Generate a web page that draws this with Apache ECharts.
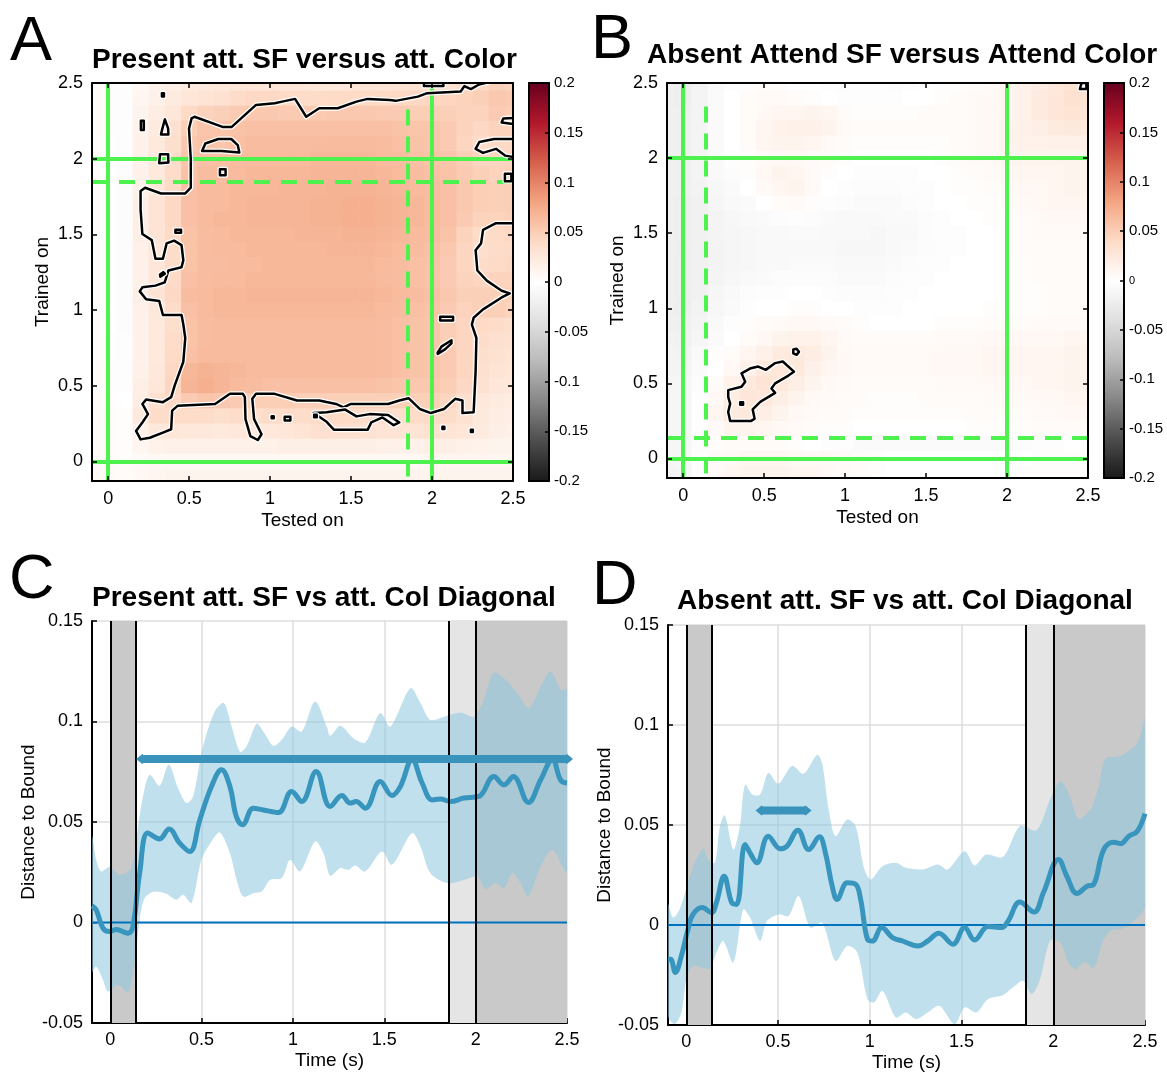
<!DOCTYPE html>
<html><head><meta charset="utf-8">
<script src="https://cdn.jsdelivr.net/npm/echarts@6/dist/echarts.min.js"></script>
<style>html,body{margin:0;padding:0;background:#fff}#c{width:1167px;height:1073px}</style>
</head><body><div id="c"></div>
<script>
// ---------------- DATA ----------------
const titleA = 'Present att. SF versus att. Color';
const titleB = 'Absent Attend SF versus Attend Color';
const titleC = 'Present att. SF vs att. Col Diagonal';
const titleD = 'Absent att. SF vs att. Col Diagonal';
const heatTicks = [0, 0.5, 1, 1.5, 2, 2.5];
const timeTicks = [0, 0.5, 1, 1.5, 2, 2.5];
// heatmap cell centres (s)
const heatX = [-0.1,0,0.1,0.2,0.3,0.4,0.5,0.6,0.7,0.8,0.9,1.0,1.1,1.2,1.3,1.4,1.5,1.6,1.7,1.8,1.9,2.0,2.1,2.2,2.3,2.4,2.5];
const heatY = [2.5,2.4,2.3,2.2,2.1,2.0,1.9,1.8,1.7,1.6,1.5,1.4,1.3,1.2,1.1,1.0,0.9,0.8,0.7,0.6,0.5,0.4,0.3,0.2,0.1,0.0,-0.1];
// values in thousandths (rows = heatY, cols = heatX)
const heatAmilli = [
[4,2,-2,8,14,18,22,24,26,28,28,28,28,28,26,26,28,30,30,30,32,34,34,38,42,48,46],
[4,2,-2,10,16,22,28,30,32,38,42,42,40,38,38,40,40,40,40,42,42,44,44,46,48,54,52],
[4,2,-3,12,20,28,40,46,48,52,54,54,52,52,52,54,54,54,52,52,50,50,48,46,46,52,50],
[4,2,-3,14,22,34,50,56,56,58,60,60,60,60,60,60,60,60,60,58,56,56,52,46,42,46,46],
[4,1,-3,14,24,36,54,58,56,60,62,62,62,62,62,64,64,64,62,60,58,56,52,44,38,40,42],
[4,1,-3,14,24,38,56,60,60,62,64,64,64,64,66,66,66,66,64,62,60,58,56,50,44,44,46],
[4,0,-4,14,24,38,58,62,62,64,66,66,66,66,68,68,68,68,66,64,62,60,58,52,48,46,48],
[4,0,-4,16,28,40,60,64,64,66,66,66,68,68,68,70,70,70,68,66,64,62,60,54,50,48,50],
[4,0,-4,18,30,42,60,64,64,66,68,68,68,68,70,70,72,72,70,68,66,64,60,54,50,48,50],
[4,0,-4,18,30,42,60,64,66,66,68,68,68,68,70,70,72,72,70,68,66,64,60,52,46,46,48],
[4,0,-4,18,30,40,58,62,64,66,66,66,66,68,68,68,70,70,68,66,64,62,58,46,38,40,42],
[4,0,-4,16,28,38,58,62,64,64,66,66,66,66,66,68,68,68,66,64,62,60,54,44,36,38,40],
[4,0,-4,16,28,38,58,62,62,64,64,66,66,66,66,66,66,66,64,62,60,58,52,44,38,40,42],
[4,0,-4,16,28,40,60,62,64,64,66,66,66,66,66,66,66,66,64,62,60,58,52,46,44,46,46],
[4,0,-4,18,30,42,62,64,66,66,68,68,68,68,68,68,68,68,66,64,62,60,54,48,48,48,48],
[4,0,-4,16,26,38,60,64,66,66,66,66,66,66,66,66,66,66,64,62,60,58,52,46,48,48,46],
[4,0,-4,14,24,36,58,62,64,64,64,64,64,64,64,64,64,64,62,60,58,56,50,44,40,38,36],
[4,1,-3,14,24,38,58,62,64,64,64,64,64,64,64,64,64,64,62,60,58,56,50,44,38,34,32],
[4,1,-3,14,24,40,60,64,64,64,64,64,64,64,64,64,64,64,62,60,58,56,52,44,36,32,30],
[5,2,-2,16,26,42,66,70,68,66,64,64,64,64,64,64,64,64,62,60,58,56,52,44,34,30,28],
[5,2,-2,18,28,44,68,72,68,64,62,60,60,60,60,60,60,60,58,56,54,54,50,42,32,28,26],
[6,3,0,20,34,42,52,56,54,52,50,50,50,48,48,48,48,48,48,48,48,48,44,36,26,22,20],
[6,4,2,24,38,38,38,38,36,38,36,38,38,38,40,40,40,38,38,36,38,40,38,32,24,20,18],
[6,4,2,16,26,28,26,26,24,26,24,26,28,30,34,34,34,32,30,30,30,32,30,28,22,18,16],
[6,4,3,10,14,16,16,16,16,16,16,16,18,18,18,18,18,18,16,16,16,18,18,16,14,12,12],
[6,4,2,6,8,8,8,8,8,8,8,8,8,8,8,8,8,8,8,8,8,10,10,10,10,10,10],
[8,6,4,8,10,12,12,12,12,12,12,12,12,12,12,12,12,12,12,12,12,12,12,12,12,12,12]
];
const heatBmilli = [
[-20,-22,-16,-8,-2,2,4,2,0,0,-2,-4,-2,-2,-4,-2,0,2,2,4,6,10,14,20,26,30,30],
[-20,-22,-14,-6,0,4,6,6,4,2,0,-2,-2,-2,-2,0,0,2,4,6,8,10,14,22,28,32,30],
[-18,-20,-14,-6,0,4,8,10,10,12,10,4,2,2,2,2,4,4,4,6,8,10,14,22,28,30,28],
[-18,-20,-14,-6,0,4,10,14,16,16,12,6,4,4,4,4,4,4,4,6,8,12,16,18,22,24,22],
[-18,-20,-14,-6,0,4,10,12,12,10,6,4,2,2,2,2,2,2,4,6,8,12,14,14,16,16,16],
[-18,-20,-14,-8,-2,2,6,8,8,6,4,2,0,0,0,0,0,2,4,6,8,10,12,12,12,12,12],
[-18,-20,-14,-8,-4,2,8,12,10,6,2,0,-2,-2,-2,-2,0,0,2,4,6,8,10,10,10,12,12],
[-18,-20,-16,-10,-6,0,6,10,12,6,0,-2,-4,-4,-4,-2,-2,0,2,2,4,6,8,8,10,12,12],
[-20,-22,-18,-12,-8,-6,0,4,6,2,-2,-4,-6,-6,-6,-4,-2,0,0,2,2,4,6,8,10,10,10],
[-20,-22,-18,-14,-10,-8,-6,-4,-2,-4,-6,-8,-8,-8,-6,-6,-4,-2,0,0,2,2,4,6,8,8,8],
[-20,-22,-18,-14,-12,-10,-8,-8,-6,-6,-8,-8,-8,-10,-8,-8,-4,-2,-2,0,0,2,4,6,6,6,6],
[-20,-22,-18,-16,-12,-10,-8,-8,-8,-8,-8,-10,-10,-10,-8,-6,-4,-2,-2,0,0,2,4,4,4,4,4],
[-20,-22,-18,-16,-12,-10,-8,-8,-6,-6,-6,-8,-8,-8,-6,-4,-2,-2,0,0,0,2,2,4,4,4,4],
[-20,-22,-18,-14,-10,-8,-6,-4,-4,-4,-4,-6,-6,-6,-4,-2,-2,0,0,0,0,2,2,4,4,4,4],
[-20,-22,-18,-12,-8,-4,-2,-2,0,0,-2,-4,-4,-4,-2,-2,0,0,0,0,0,2,2,2,4,4,4],
[-20,-22,-16,-10,-6,-2,0,0,2,2,0,0,-2,-2,-2,0,0,0,0,0,2,2,2,2,4,4,4],
[-18,-20,-14,-8,-2,2,4,6,8,8,6,4,2,0,0,0,0,2,2,2,4,4,4,6,6,6,6],
[-16,-18,-12,-6,0,4,8,12,14,14,10,6,4,4,4,4,4,6,6,6,8,8,8,8,8,10,10],
[-14,-16,-8,-2,4,10,16,22,24,20,12,8,6,6,6,6,6,8,8,8,10,10,10,10,10,12,12],
[-14,-14,-6,0,8,16,24,28,24,16,10,8,6,6,6,6,6,8,8,8,10,10,10,10,10,12,12],
[-12,-12,-4,4,14,24,30,26,18,12,8,6,4,4,4,4,4,6,6,6,8,8,8,10,10,12,12],
[-12,-12,-2,8,20,28,26,18,12,8,6,4,4,2,2,2,4,4,4,4,6,6,6,8,8,10,10],
[-12,-12,-2,10,22,24,18,12,8,6,4,4,2,2,2,2,2,2,2,4,4,4,4,6,6,8,8],
[-12,-12,-2,6,12,12,10,8,6,4,2,2,0,0,0,0,0,0,0,2,2,2,2,4,4,4,4],
[-12,-12,-4,2,4,4,4,4,2,0,-2,-2,-6,-6,-6,-6,-6,-6,-6,-6,-6,-6,-4,-2,-2,0,0],
[-12,-10,-2,6,8,10,10,10,8,8,8,6,4,2,0,0,0,0,0,0,0,0,0,2,2,2,2],
[-14,-12,-2,6,10,12,12,12,10,10,8,6,4,2,0,0,0,0,0,0,0,0,2,2,2,2,2]
];
// significance contours (data coordinates, seconds)
const contoursA = [
[[0.515,2.266],[0.533,2.277],[0.706,2.21],[0.763,2.21],[0.913,2.355],[1.028,2.366],[1.074,2.377],[1.154,2.395],[1.223,2.277],[1.303,2.333],[1.418,2.333],[1.533,2.377],[1.602,2.395],[1.74,2.388],[1.775,2.382],[1.913,2.41],[1.97,2.433],[2.177,2.444],[2.2,2.48],[2.24,2.46],[2.29,2.49],[2.56,2.56],[2.56,2.27],[2.44,2.266],[2.43,2.239],[2.56,2.22],[2.56,2.13],[2.384,2.13],[2.292,2.11],[2.269,2.065],[2.315,2.038],[2.395,2.065],[2.453,2.02],[2.56,2.0],[2.56,1.574],[2.395,1.574],[2.315,1.529],[2.303,1.44],[2.269,1.395],[2.28,1.261],[2.338,1.194],[2.43,1.127],[2.48,1.11],[2.43,1.083],[2.315,1.004],[2.257,0.949],[2.246,0.904],[2.274,0.815],[2.269,0.592],[2.257,0.324],[2.188,0.319],[2.188,0.402],[2.143,0.413],[2.074,0.346],[1.993,0.319],[1.924,0.346],[1.855,0.417],[1.798,0.402],[1.729,0.379],[1.499,0.379],[1.453,0.357],[1.407,0.379],[1.303,0.402],[1.166,0.402],[1.028,0.446],[0.913,0.446],[0.89,0.413],[0.901,0.279],[0.947,0.179],[0.924,0.141],[0.878,0.167],[0.848,0.279],[0.844,0.424],[0.832,0.446],[0.752,0.446],[0.66,0.379],[0.43,0.368],[0.395,0.335],[0.389,0.212],[0.338,0.19],[0.257,0.156],[0.2,0.145],[0.172,0.201],[0.211,0.257],[0.246,0.312],[0.211,0.379],[0.234,0.408],[0.338,0.391],[0.389,0.424],[0.411,0.502],[0.464,0.658],[0.476,0.815],[0.464,0.904],[0.453,0.967],[0.338,0.967],[0.315,1.06],[0.234,1.071],[0.195,1.123],[0.211,1.15],[0.292,1.161],[0.349,1.183],[0.372,1.261],[0.453,1.283],[0.464,1.328],[0.453,1.429],[0.407,1.458],[0.361,1.44],[0.338,1.339],[0.292,1.339],[0.269,1.462],[0.211,1.502],[0.2,1.663],[0.2,1.786],[0.228,1.808],[0.326,1.77],[0.476,1.77],[0.51,1.808],[0.51,1.998],[0.499,2.199]],
[[1.269,0.319],[1.349,0.261],[1.395,0.208],[1.602,0.208],[1.625,0.257],[1.694,0.29],[1.763,0.239],[1.798,0.257],[1.729,0.306],[1.614,0.312],[1.533,0.297],[1.464,0.342],[1.349,0.324]],
[[0.332,2.41],[0.344,2.41],[0.344,2.432],[0.332,2.432]],
[[0.202,2.19],[0.22,2.19],[0.22,2.25],[0.202,2.25]],
[[0.326,2.16],[0.372,2.16],[0.37,2.2],[0.35,2.26],[0.335,2.2]],
[[0.315,1.97],[0.372,1.975],[0.37,2.03],[0.32,2.03]],
[[0.58,2.05],[0.6,2.1],[0.68,2.13],[0.76,2.13],[0.8,2.09],[0.81,2.04],[0.7,2.05]],
[[0.69,1.89],[0.725,1.89],[0.725,1.93],[0.69,1.93]],
[[0.415,1.51],[0.45,1.51],[0.45,1.53],[0.415,1.53]],
[[0.322,1.22],[0.35,1.24],[0.34,1.25],[0.32,1.235]],
[[2.05,0.93],[2.13,0.93],[2.13,0.955],[2.05,0.955]],
[[2.035,0.72],[2.06,0.76],[2.12,0.8],[2.12,0.78],[2.08,0.74],[2.035,0.71]],
[[2.064,0.214],[2.076,0.214],[2.076,0.228],[2.064,0.228]],
[[2.24,0.194],[2.252,0.194],[2.252,0.208],[2.24,0.208]],
[[1.01,0.284],[1.022,0.284],[1.022,0.298],[1.01,0.298]],
[[1.09,0.27],[1.125,0.27],[1.125,0.295],[1.09,0.295]],
[[1.272,0.292],[1.288,0.292],[1.288,0.308],[1.272,0.308]],
[[1.95,2.48],[2.07,2.48],[2.07,2.53],[1.95,2.53]],
[[2.45,1.85],[2.49,1.85],[2.49,1.9],[2.45,1.9]]
];
const contoursB = [
[[0.278,0.455],[0.36,0.478],[0.383,0.511],[0.36,0.567],[0.418,0.601],[0.464,0.612],[0.51,0.59],[0.568,0.635],[0.615,0.646],[0.684,0.578],[0.65,0.552],[0.568,0.5],[0.545,0.466],[0.568,0.437],[0.476,0.377],[0.429,0.327],[0.441,0.265],[0.418,0.249],[0.29,0.249],[0.278,0.309],[0.29,0.365],[0.278,0.41]],
[[0.68,0.7],[0.7,0.69],[0.715,0.71],[0.7,0.73],[0.68,0.725]],
[[0.352,0.357],[0.37,0.357],[0.37,0.375],[0.352,0.375]],
[[2.45,2.46],[2.49,2.46],[2.49,2.5],[2.46,2.5]]
];
// reference lines (s)
const solidLinesA = [0, 2];
const dashedA = 1.85;
const solidLinesB = [0, 2];
const dashedB = 0.14;
const dashedExtent = [-0.1, 2.4];
// time-course panels
const eventLines = [0, 0.14, 1.85, 2.0];
const darkSpans = [[0, 0.14], [2.0, 2.6]];
const lightSpans = [[1.85, 2.0]];

const tMeanC = [-0.1,-0.077,-0.04,-0.004,0.033,0.097,0.124,0.161,0.206,0.27,0.322,0.38,0.435,0.49,0.554,0.609,0.655,0.69,0.724,0.783,0.838,0.92,0.993,1.048,1.127,1.204,1.268,1.313,1.346,1.396,1.478,1.542,1.588,1.652,1.707,1.762,1.807,1.862,1.935,2.017,2.1,2.155,2.206,2.289,2.356,2.42,2.466,2.5];
const meanC = [0.0083,0.0063,-0.0028,-0.0045,-0.0035,-0.0053,-0.002,0.0246,0.0445,0.0416,0.0465,0.0395,0.0353,0.051,0.0677,0.076,0.0677,0.0527,0.0486,0.0569,0.056,0.0547,0.0652,0.0602,0.0751,0.0577,0.0632,0.0594,0.0602,0.0569,0.0702,0.0632,0.0677,0.081,0.0694,0.061,0.0614,0.0602,0.0619,0.0627,0.0726,0.0685,0.0726,0.0597,0.071,0.081,0.0707,0.0694];
const tUpperC = [-0.1,-0.077,-0.05,-0.004,0.051,0.115,0.152,0.179,0.216,0.27,0.32,0.371,0.417,0.453,0.508,0.572,0.622,0.664,0.71,0.746,0.801,0.838,0.893,0.939,0.993,1.048,1.121,1.185,1.204,1.259,1.331,1.396,1.478,1.533,1.643,1.698,1.752,1.844,1.917,1.99,2.045,2.1,2.173,2.228,2.292,2.356,2.411,2.466,2.5];
const upperC = [0.0428,0.0312,0.0254,0.0276,0.0237,0.027,0.0478,0.0627,0.0735,0.068,0.0785,0.0669,0.0594,0.0627,0.0876,0.105,0.1092,0.0975,0.085,0.0876,0.0989,0.095,0.0879,0.0909,0.0975,0.095,0.11,0.0975,0.0929,0.0979,0.0917,0.0896,0.1042,0.0975,0.1166,0.1092,0.1008,0.1028,0.1045,0.1025,0.1108,0.1241,0.12,0.1141,0.1067,0.1174,0.1249,0.1158,0.1158];
const tLowerC = [-0.1,-0.077,-0.04,-0.013,0.042,0.097,0.133,0.161,0.188,0.243,0.307,0.362,0.399,0.445,0.499,0.554,0.6,0.655,0.692,0.728,0.783,0.829,0.874,0.939,0.984,1.039,1.121,1.167,1.204,1.259,1.304,1.341,1.396,1.487,1.542,1.652,1.698,1.752,1.844,1.935,2.009,2.054,2.109,2.155,2.201,2.246,2.287,2.356,2.42,2.475,2.5];
const lowerC = [-0.0244,-0.0219,-0.0285,-0.0343,-0.031,-0.0348,-0.0202,0.0013,0.0121,0.0154,0.0143,0.0113,0.0138,0.0097,0.0312,0.0403,0.0448,0.0345,0.0212,0.0129,0.0146,0.0154,0.0212,0.0221,0.0312,0.0254,0.0403,0.0345,0.0233,0.0271,0.0262,0.0284,0.0254,0.0353,0.0287,0.0445,0.0378,0.0246,0.0196,0.0212,0.0229,0.0166,0.0196,0.0171,0.0246,0.0196,0.0129,0.0279,0.0362,0.0279,0.0246];
const sigC = [0.175, 2.5];
const sigLevelC = 0.0813;

const tMeanD = [-0.1,-0.086,-0.06,-0.027,0.009,0.036,0.086,0.137,0.164,0.206,0.247,0.274,0.32,0.347,0.384,0.447,0.512,0.548,0.608,0.667,0.725,0.758,0.795,0.822,0.877,0.923,0.95,0.987,1.014,1.065,1.124,1.179,1.261,1.316,1.376,1.453,1.517,1.571,1.645,1.718,1.754,1.818,1.895,1.946,2.029,2.074,2.129,2.184,2.22,2.275,2.33,2.366,2.412,2.458,2.5];
const meanD = [-0.0171,-0.0171,-0.0237,-0.0154,-0.0021,0.0053,0.0087,0.0062,0.0112,0.0244,0.0112,0.0103,0.0402,0.0361,0.0311,0.0444,0.0381,0.0394,0.0474,0.0377,0.0441,0.0361,0.0194,0.0128,0.0211,0.0203,0.0128,-0.0071,-0.008,-0.0013,-0.0063,-0.008,-0.0105,-0.008,-0.0041,-0.0096,-0.0013,-0.0075,-0.0008,-0.0013,0.002,0.0115,0.0065,0.0161,0.0328,0.0244,0.0158,0.0194,0.0203,0.0377,0.0414,0.0407,0.0444,0.0469,0.0557];
const tUpperD = [-0.1,-0.073,-0.037,0.009,0.046,0.091,0.118,0.155,0.183,0.21,0.256,0.292,0.32,0.36,0.402,0.447,0.502,0.576,0.639,0.713,0.74,0.776,0.813,0.877,0.923,0.968,1.005,1.069,1.142,1.197,1.288,1.371,1.425,1.517,1.571,1.635,1.727,1.818,1.91,1.982,2.037,2.083,2.138,2.202,2.248,2.284,2.366,2.458,2.5];
const upperD = [0.0103,0.0037,0.0078,0.0211,0.0311,0.0381,0.0328,0.0311,0.0494,0.0547,0.0377,0.0494,0.0701,0.0652,0.0652,0.076,0.0706,0.0796,0.0756,0.0851,0.081,0.0577,0.0444,0.0527,0.0494,0.0286,0.0228,0.0294,0.0311,0.0286,0.0278,0.0303,0.0278,0.0369,0.0298,0.0352,0.0341,0.0494,0.0474,0.0627,0.0718,0.066,0.053,0.0577,0.0693,0.083,0.0846,0.0909,0.103];
const tLowerD = [-0.1,-0.064,-0.027,0.0,0.036,0.082,0.128,0.164,0.201,0.256,0.31,0.347,0.402,0.439,0.502,0.557,0.612,0.676,0.74,0.813,0.877,0.932,0.987,1.023,1.069,1.142,1.197,1.252,1.316,1.379,1.462,1.517,1.581,1.645,1.727,1.791,1.837,1.882,1.928,1.982,2.037,2.083,2.12,2.174,2.22,2.275,2.321,2.366,2.439,2.5];
const lowerD = [-0.0454,-0.0495,-0.0437,-0.0271,-0.0204,-0.0212,-0.0217,-0.0138,-0.008,-0.0187,0.0078,0.0037,-0.008,0.002,0.0053,0.0045,0.0145,-0.0013,0.0012,-0.018,-0.0105,-0.0138,-0.037,-0.0387,-0.0329,-0.0462,-0.0437,-0.047,-0.0437,-0.0404,-0.0495,-0.0412,-0.0437,-0.037,-0.035,-0.0304,-0.0279,-0.0345,-0.0271,-0.008,-0.0085,-0.0187,-0.0221,-0.0184,-0.0217,-0.0071,-0.0025,-0.0021,0.002,0.0095];
const sigD = [0.41, 0.65];
const sigLevelD = 0.0573;

// ---------------- STYLE ----------------
const FONT = "'Liberation Sans', Arial, Helvetica, sans-serif";
const GREEN = '#4EF24E';
const RDGY = ['#1a1a1a','#4d4d4d','#878787','#bababa','#e0e0e0','#ffffff','#fddbc7','#f4a582','#d6604d','#b2182b','#67001f'];
const LINE_BLUE = '#3795BE';
const BAND = 'rgba(141,200,221,0.56)';
const TICK_FS = 18, NAME_FS = 19;

function heatData(m) {
  const out = [];
  m.forEach((row, r) => row.forEach((v, c) => out.push([heatX[c], heatY[r], v / 1000])));
  return out;
}
const black = {color: '#000', width: 2};
function heatXAxis(grid, name) {
  return [
    {gridIndex: grid, type: 'value', min: -0.1, max: 2.5, position: 'bottom', z: 10,
     axisLine: {show: true, onZero: false, lineStyle: black},
     axisTick: {show: true, inside: true, length: 5, customValues: heatTicks, lineStyle: {color: '#000', width: 1.5}},
     axisLabel: {show: true, customValues: heatTicks, fontSize: TICK_FS, color: '#000', margin: 9, fontFamily: FONT},
     splitLine: {show: false},
     name: name, nameLocation: 'middle', nameGap: 30,
     nameTextStyle: {fontSize: NAME_FS, color: '#000', fontFamily: FONT}},
    {gridIndex: grid, type: 'value', min: -0.1, max: 2.5, position: 'top', z: 10,
     axisLine: {show: true, onZero: false, lineStyle: black},
     axisTick: {show: true, inside: true, length: 5, customValues: heatTicks, lineStyle: {color: '#000', width: 1.5}},
     axisLabel: {show: false}, splitLine: {show: false}}
  ];
}
function heatYAxis(grid, name) {
  return [
    {gridIndex: grid, type: 'value', min: -0.13, max: 2.5, position: 'left', z: 10,
     axisLine: {show: true, onZero: false, lineStyle: black},
     axisTick: {show: true, inside: true, length: 5, customValues: heatTicks, lineStyle: {color: '#000', width: 1.5}},
     axisLabel: {show: true, customValues: heatTicks, fontSize: TICK_FS, color: '#000', margin: 9, fontFamily: FONT},
     splitLine: {show: false},
     name: name, nameLocation: 'middle', nameGap: 40,
     nameTextStyle: {fontSize: NAME_FS, color: '#000', fontFamily: FONT}},
    {gridIndex: grid, type: 'value', min: -0.13, max: 2.5, position: 'right', z: 10,
     axisLine: {show: true, onZero: false, lineStyle: black},
     axisTick: {show: true, inside: true, length: 5, customValues: heatTicks, lineStyle: {color: '#000', width: 1.5}},
     axisLabel: {show: false}, splitLine: {show: false}}
  ];
}
function cbarXAxis(grid) {
  return [
    {gridIndex: grid, type: 'value', min: 0, max: 1, position: 'bottom', z: 10,
     axisLine: {show: true, onZero: false, lineStyle: black}, axisTick: {show: false}, axisLabel: {show: false}, splitLine: {show: false}},
    {gridIndex: grid, type: 'value', min: 0, max: 1, position: 'top', z: 10,
     axisLine: {show: true, onZero: false, lineStyle: black}, axisTick: {show: false}, axisLabel: {show: false}, splitLine: {show: false}}
  ];
}
function cbarYAxis(grid, smallZero) {
  return [
    {gridIndex: grid, type: 'value', min: -0.2, max: 0.2, position: 'left', z: 10,
     axisLine: {show: true, onZero: false, lineStyle: black}, axisTick: {show: false}, axisLabel: {show: false}, splitLine: {show: false}},
    {gridIndex: grid, type: 'value', min: -0.2, max: 0.2, interval: 0.05, position: 'right', z: 10,
     axisLine: {show: true, onZero: false, lineStyle: black},
     axisTick: {show: true, inside: true, length: 4, lineStyle: {color: '#000', width: 1.5}},
     axisLabel: {show: true, fontSize: 15, color: '#000', margin: 5, fontFamily: FONT,
       formatter: v => (smallZero && Math.abs(v) < 1e-9) ? '{s|0}' : String(+v.toFixed(2)),
       rich: {s: {fontSize: 11, fontFamily: FONT, color: '#000'}}},
     splitLine: {show: false}}
  ];
}
function timeXAxis(grid) {
  return {gridIndex: grid, type: 'value', min: -0.1, max: 2.5,
    axisLine: {show: true, onZero: false, lineStyle: black},
    axisTick: {show: true, inside: true, length: 5, customValues: timeTicks, lineStyle: {color: '#000', width: 1.5}},
    axisLabel: {show: true, customValues: timeTicks, fontSize: TICK_FS, color: '#000', margin: 8, fontFamily: FONT},
    splitLine: {show: true, lineStyle: {color: '#DEDEDE', width: 1.5}},
    name: 'Time (s)', nameLocation: 'middle', nameGap: 28,
    nameTextStyle: {fontSize: NAME_FS, color: '#000', fontFamily: FONT}};
}
function timeYAxis(grid) {
  return {gridIndex: grid, type: 'value', min: -0.05, max: 0.15, interval: 0.05,
    axisLine: {show: true, onZero: false, lineStyle: black},
    axisTick: {show: true, inside: true, length: 5, lineStyle: {color: '#000', width: 1.5}},
    axisLabel: {show: true, fontSize: TICK_FS, color: '#000', margin: 9, fontFamily: FONT},
    splitLine: {show: true, lineStyle: {color: '#DEDEDE', width: 1.5}},
    name: 'Distance to Bound', nameLocation: 'middle', nameGap: 52,
    nameTextStyle: {fontSize: NAME_FS, color: '#000', fontFamily: FONT}};
}

function heatSeries(ax, m) {
  return {type: 'custom', coordinateSystem: 'cartesian2d', xAxisIndex: ax, yAxisIndex: ax,
    clip: true, z: 1, silent: true, data: heatData(m),
    renderItem: (params, api) => {
      const x = api.value(0), y = api.value(1);
      const p1 = api.coord([x - 0.05, y + 0.05]);
      const p2 = api.coord([x + 0.05, y - 0.05]);
      return {type: 'rect', shape: {x: p1[0], y: p1[1], width: p2[0] - p1[0] + 0.7, height: p2[1] - p1[1] + 0.7},
        style: {fill: api.visual('color')}};
    }};
}
function greenSeries(ax, solids, dashed) {
  const solidStyle = {color: GREEN, width: 4, type: 'solid'};
  const dashStyle = {color: GREEN, width: 4, type: [16, 11]};
  const data = [];
  solids.forEach(v => data.push({xAxis: v, lineStyle: solidStyle}));
  solids.forEach(v => data.push({yAxis: v, lineStyle: solidStyle}));
  data.push([{coord: [dashed, dashedExtent[0]], lineStyle: dashStyle}, {coord: [dashed, dashedExtent[1]]}]);
  data.push([{coord: [-0.1, dashed], lineStyle: dashStyle}, {coord: [2.5, dashed]}]);
  return {type: 'line', xAxisIndex: ax, yAxisIndex: ax, data: [[-1, -1]], symbol: 'none', z: 3, silent: true,
    lineStyle: {opacity: 0},
    markLine: {silent: true, symbol: ['none', 'none'], label: {show: false}, animation: false, data: data}};
}
function contourSeries(ax, loops) {
  return {type: 'custom', coordinateSystem: 'cartesian2d', xAxisIndex: ax, yAxisIndex: ax,
    clip: true, z: 5, silent: true, data: loops.map(l => l[0]),
    renderItem: (params, api) => {
      const pts = loops[params.dataIndex].map(p => api.coord(p));
      return {type: 'group', children: [
        {type: 'polygon', shape: {points: pts}, style: {fill: 'none', stroke: '#fff', lineWidth: 5, lineJoin: 'round'}},
        {type: 'polygon', shape: {points: pts}, style: {fill: 'none', stroke: '#000', lineWidth: 2.5, lineJoin: 'round'}}
      ]};
    }};
}
function zip(t, v) { return t.map((x, i) => [x, v[i]]); }
function timeSeries(ax, tM, m, tU, u, tL, l, sig, sigLevel) {
  const areas = [];
  darkSpans.forEach(s => areas.push([{xAxis: s[0], itemStyle: {color: '#C9C9C9'}}, {xAxis: s[1]}]));
  lightSpans.forEach(s => areas.push([{xAxis: s[0], itemStyle: {color: '#E5E5E5'}}, {xAxis: s[1]}]));
  return [
    {type: 'line', xAxisIndex: ax, yAxisIndex: ax, data: [[-1, -1]], symbol: 'none', z: 1, silent: true,
     lineStyle: {opacity: 0},
     markArea: {silent: true, animation: false, data: areas},
     markLine: {silent: true, symbol: ['none', 'none'], label: {show: false}, animation: false,
       lineStyle: {color: '#000', width: 2, type: 'solid'},
       data: eventLines.map(v => ({xAxis: v}))}},
    {type: 'custom', coordinateSystem: 'cartesian2d', xAxisIndex: ax, yAxisIndex: ax, clip: true, z: 2, silent: true,
     data: [[tU[0], u[0]]],
     renderItem: (params, api) => {
       const pts = [];
       for (let i = 0; i < tU.length; i++) pts.push(api.coord([tU[i], u[i]]));
       for (let i = tL.length - 1; i >= 0; i--) pts.push(api.coord([tL[i], l[i]]));
       return {type: 'polygon', shape: {points: pts, smooth: 0.3}, style: {fill: BAND}};
     }},
    {type: 'line', xAxisIndex: ax, yAxisIndex: ax, data: [[-0.1, 0], [2.5, 0]], symbol: 'none', z: 3, silent: true,
     lineStyle: {color: '#0072BD', width: 2}},
    {type: 'line', xAxisIndex: ax, yAxisIndex: ax, data: zip(tM, m), symbol: 'none', smooth: 0.4, z: 4, silent: true,
     lineStyle: {color: LINE_BLUE, width: 5}},
    {type: 'line', xAxisIndex: ax, yAxisIndex: ax, data: [[sig[0], sigLevel], [sig[1], sigLevel]], z: 5, silent: true,
     symbol: 'diamond', symbolSize: [12, 10], showSymbol: true,
     itemStyle: {color: '#3A93BB'}, lineStyle: {color: '#3A93BB', width: 8}}
  ];
}

const titleStyle = {fontSize: 28, fontWeight: 'bold', color: '#000', fontFamily: FONT};
const letterStyle = {fontSize: 63, fontWeight: 'normal', color: '#000', fontFamily: FONT};

const option = {
  animation: false,
  backgroundColor: '#fff',
  title: [
    {text: 'A', left: 10, top: 11, textStyle: letterStyle, padding: 0},
    {text: 'B', left: 591, top: 9, textStyle: letterStyle, padding: 0},
    {text: 'C', left: 9, top: 549, textStyle: letterStyle, padding: 0},
    {text: 'D', left: 592, top: 555, textStyle: letterStyle, padding: 0},
    {text: titleA, left: 92, top: 46, textStyle: titleStyle, padding: 0},
    {text: titleB, left: 647, top: 41, textStyle: titleStyle, padding: 0},
    {text: titleC, left: 92, top: 584, textStyle: titleStyle, padding: 0},
    {text: titleD, left: 677, top: 587, textStyle: titleStyle, padding: 0}
  ],
  grid: [
    {left: 92, top: 83, width: 421, height: 398},
    {left: 667, top: 83, width: 421, height: 395},
    {left: 529, top: 83, width: 20, height: 398},
    {left: 1104, top: 83, width: 20, height: 395},
    {left: 92, top: 621, width: 475, height: 402},
    {left: 668, top: 625, width: 477, height: 401}
  ],
  xAxis: [].concat(heatXAxis(0, 'Tested on'), heatXAxis(1, 'Tested on'), cbarXAxis(2), cbarXAxis(3), [timeXAxis(4), timeXAxis(5)]),
  yAxis: [].concat(heatYAxis(0, 'Trained on'), heatYAxis(1, 'Trained on'), cbarYAxis(2, false), cbarYAxis(3, true), [timeYAxis(4), timeYAxis(5)]),
  visualMap: [
    {type: 'continuous', min: -0.2, max: 0.2, seriesIndex: 0, dimension: 2, calculable: false, hoverLink: false,
     left: 529, top: 83, itemWidth: 20, itemHeight: 398, padding: 0, inRange: {color: RDGY}, textStyle: {fontSize: 0}},
    {type: 'continuous', min: -0.2, max: 0.2, seriesIndex: 1, dimension: 2, calculable: false, hoverLink: false,
     left: 1104, top: 83, itemWidth: 20, itemHeight: 395, padding: 0, inRange: {color: RDGY}, textStyle: {fontSize: 0}}
  ],
  series: [
    heatSeries(0, heatAmilli),
    heatSeries(2, heatBmilli),
    greenSeries(0, solidLinesA, dashedA),
    greenSeries(2, solidLinesB, dashedB),
    contourSeries(0, contoursA),
    contourSeries(2, contoursB)
  ].concat(
    timeSeries(8, tMeanC, meanC, tUpperC, upperC, tLowerC, lowerC, sigC, sigLevelC),
    timeSeries(9, tMeanD, meanD, tUpperD, upperD, tLowerD, lowerD, sigD, sigLevelD)
  )
};
const chart = echarts.init(document.getElementById('c'), null, {renderer: 'canvas'});
chart.setOption(option);
</script></body></html>
